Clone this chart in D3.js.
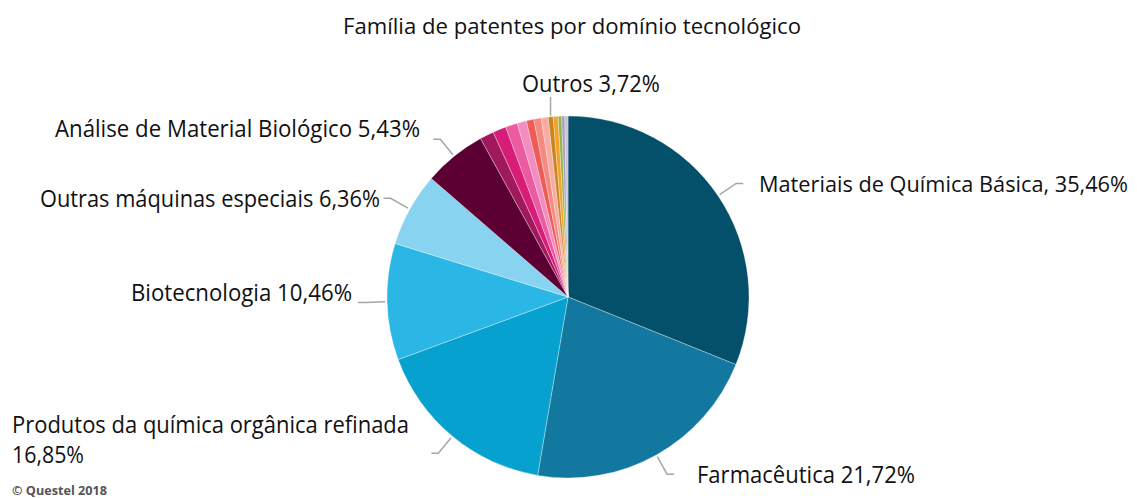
<!DOCTYPE html>
<html>
<head>
<meta charset="utf-8">
<script src="https://cdn.jsdelivr.net/npm/d3@7"></script>
<style>
  body { margin: 0; background: #fff; }
  text { font-family: "Open Sans", "Liberation Sans", sans-serif; fill: #111; }
</style>
</head>
<body>
<svg id="pizza"></svg>
<script>
// fatias do grafico (parte do circulo, %), no sentido horario a partir do topo
const categorias = [
  "Materiais de Química Básica",
  "Farmacêutica",
  "Produtos da química orgânica refinada",
  "Biotecnologia",
  "Outras máquinas especiais",
  "Análise de Material Biológico",
  "Outro 1", "Outro 2", "Outro 3", "Outro 4", "Outro 5", "Outro 6",
  "Outro 7", "Outro 8", "Outro 9", "Outro 10", "Outro 11", "Outro 12"
];
const fatias = [31.1, 21.6, 16.7, 10.4, 6.6, 5.6,
  1.25, 1.19, 1.06, 0.83, 0.67, 0.67, 0.61, 0.44, 0.44, 0.31, 0.28, 0.28];
const cores = ["#04506a", "#12789f", "#07a1d0", "#2bb7e5", "#88d3ef", "#5c0033",
  "#a0195d", "#d81d79", "#ec5aa1", "#f38cc0", "#ef5b55", "#f58a80",
  "#f8aba2", "#c7871f", "#f4a22c", "#93b648", "#a89cc4", "#c9c0d6"];

// rotulos: texto e percentual como aparecem no grafico
const rotulos = ["Materiais de Química Básica,", "Farmacêutica", "Produtos da química orgânica refinada",
  "Biotecnologia", "Outras máquinas especiais", "Análise de Material Biológico", "Outros"];
const percentuais = [35.46, 21.72, 16.85, 10.46, 6.36, 5.43, 3.72];
const fatiaDoRotulo = [0, 1, 2, 3, 4, 5, 13];

const titulo = "Família de patentes por domínio tecnológico";
const fonte = "© Questel 2018";

const largura = 1137, altura = 498;
const cx = 568, cy = 297, raio = 181;

// posicao de cada rotulo (x, linha de base, ancora do texto, lado da linha, largura do texto)
const layout = [
  { x: 759, y: 192, anchor: "start", lado: 1, w: 369, fs: 21.6 },
  { x: 697, y: 483, anchor: "start", lado: 1, w: 218 },
  { x: 12, y: 433, anchor: "start", lado: -1, w: 397, quebra: true, w2: 72 },
  { x: 352, y: 301, anchor: "end", lado: -1, w: 221 },
  { x: 380, y: 207, anchor: "end", lado: -1, w: 340 },
  { x: 420, y: 137, anchor: "end", lado: -1, w: 365 },
  { x: 591, y: 92, anchor: "middle", lado: 0, w: 138, vertical: true }
];

const fmt = v => d3.format(".2f")(v).replace(".", ",") + "%";

const svg = d3.select("#pizza").attr("width", largura).attr("height", altura);

svg.append("text")
  .attr("x", 572).attr("y", 34)
  .attr("text-anchor", "middle")
  .attr("font-size", 22)
  .attr("textLength", 458).attr("lengthAdjust", "spacingAndGlyphs")
  .text(titulo);

const pie = d3.pie().sort(null).value(d => d);
const arcos = pie(fatias);
const arc = d3.arc().innerRadius(0).outerRadius(raio);

const g = svg.append("g").attr("transform", `translate(${cx},${cy})`);

g.selectAll("path")
  .data(arcos)
  .enter()
  .append("path")
  .attr("d", arc)
  .attr("fill", (_, i) => cores[i])
  .attr("stroke", "rgba(255,255,255,0.45)")
  .attr("stroke-width", 0.7);

const ponto = (a, r) => [Math.sin(a) * r, -Math.cos(a) * r];

// linhas de chamada
rotulos.forEach((_, i) => {
  const a = arcos[fatiaDoRotulo[i]];
  const m = (a.startAngle + a.endAngle) / 2;
  const L = layout[i];
  let pts;
  if (L.vertical) {
    const p0 = ponto(m, 182);
    pts = [p0, [p0[0], 97 - cy]];
  } else {
    const p0 = ponto(m, 183);
    const p1 = ponto(m, 203);
    pts = [p0, p1, [p1[0] + L.lado * 7, p1[1]]];
  }
  g.append("path")
    .attr("d", d3.line()(pts))
    .attr("fill", "none")
    .attr("stroke", "#a6a6a6")
    .attr("stroke-width", 1.5);
});

// textos dos rotulos
rotulos.forEach((r, i) => {
  const L = layout[i];
  const fs = L.fs || 23;
  if (L.quebra) {
    svg.append("text")
      .attr("x", L.x).attr("y", L.y)
      .attr("font-size", fs)
      .attr("textLength", L.w).attr("lengthAdjust", "spacingAndGlyphs")
      .text(r);
    svg.append("text")
      .attr("x", L.x).attr("y", L.y + 30)
      .attr("font-size", fs)
      .attr("textLength", L.w2).attr("lengthAdjust", "spacingAndGlyphs")
      .text(fmt(percentuais[i]));
  } else {
    svg.append("text")
      .attr("x", L.x).attr("y", L.y)
      .attr("text-anchor", L.anchor)
      .attr("font-size", fs)
      .attr("textLength", L.w).attr("lengthAdjust", "spacingAndGlyphs")
      .text(r + " " + fmt(percentuais[i]));
  }
});

svg.append("text")
  .attr("x", 12).attr("y", 495)
  .attr("font-size", 11.5)
  .attr("font-weight", "bold")
  .attr("font-family", "Liberation Sans, Arial, sans-serif")
  .style("fill", "#555")
  .attr("textLength", 95).attr("lengthAdjust", "spacingAndGlyphs")
  .text(fonte);
</script>
</body>
</html>
